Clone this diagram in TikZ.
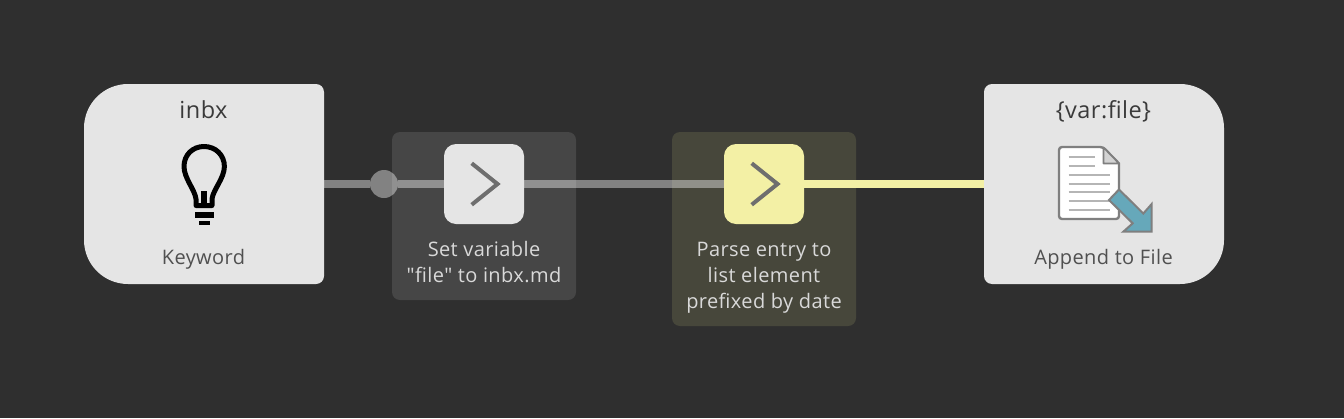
\documentclass[tikz,border=0pt]{standalone}
\usepackage{fontspec}
\newfontfamily\lblfont{Open Sans}[LetterSpace=2]
\newfontfamily\ttlfont{Open Sans}[LetterSpace=2]
\definecolor{bgc}{HTML}{2F2F2F}
\definecolor{cardc}{HTML}{E5E5E5}
\definecolor{panelA}{HTML}{464646}
\definecolor{panelB}{HTML}{47473B}
\definecolor{yel}{HTML}{F3F0A5}
\definecolor{chev}{HTML}{6E6E6E}
\definecolor{txtd}{HTML}{3A3A3A}
\definecolor{txtm}{HTML}{505050}
\definecolor{txtl}{HTML}{D9D9D9}
\definecolor{teal}{HTML}{66A8BA}
\definecolor{docl}{HTML}{B5B5B5}
\definecolor{docg}{HTML}{7F7F7F}
\tikzset{
  x=1pt,y=-1pt,
  anchorbox/.style={inner sep=0pt,outer sep=0pt,minimum width=#1,minimum height=80pt},
  stepsq/.style={rectangle,rounded corners=12pt,inner sep=0pt,outer sep=0pt,minimum size=80pt},
  panel/.style={rounded corners=8pt},
  wire/.style={line width=8pt,white,opacity=.4},
  titletxt/.style={anchor=base,inner sep=0pt,font=\ttlfont\fontsize{23.5}{28}\selectfont,text=txtd},
  subtxt/.style={anchor=base,inner sep=0pt,font=\lblfont\fontsize{20}{26}\selectfont,text=txtm},
  lbl/.style={anchor=base,inner sep=0pt,font=\lblfont\fontsize{20}{26}\selectfont,text=txtl},
  chevron/.style={chev,line width=4pt,miter limit=10},
}
\begin{document}
\begin{tikzpicture}
\useasboundingbox (0,0) rectangle (1344,418);
\fill[bgc] (0,0) rectangle (1344,418);
% panels
\fill[panelA,panel] (392,132) rectangle (576,300);
\fill[panelB,panel] (672,132) rectangle (856,326);
% cards
\fill[cardc] (84,128) .. controls (84,103.7) and (103.7,84) .. (128,84)
  -- (316,84) .. controls (320.4,84) and (324,87.6) .. (324,92)
  -- (324,276) .. controls (324,280.4) and (320.4,284) .. (316,284)
  -- (128,284) .. controls (103.7,284) and (84,264.3) .. (84,240) -- cycle;
\fill[cardc] (1224,128) .. controls (1224,103.7) and (1204.3,84) .. (1180,84)
  -- (992,84) .. controls (987.6,84) and (984,87.6) .. (984,92)
  -- (984,276) .. controls (984,280.4) and (987.6,284) .. (992,284)
  -- (1180,284) .. controls (1204.3,284) and (1224,264.3) .. (1224,240) -- cycle;
% named nodes
\node[anchorbox=240pt,minimum height=200pt] (kw) at (204,184) {};
\node[anchorbox=240pt,minimum height=200pt] (app) at (1104,184) {};
\node[stepsq,fill=cardc] (setv) at (484,184) {};
\node[stepsq,fill=yel] (parse) at (764,184) {};
\node[circle,fill=white,fill opacity=.4,inner sep=0pt,outer sep=0pt,minimum size=28pt] (dot) at (384,184) {};
% connectors
\draw[wire] (kw.east) -- (dot.west);
\draw[wire] (dot.east) -- (setv.west);
\draw[wire] (setv.east) -- (parse.west);
\draw[line width=8pt,yel] (parse.east) -- (app.west);
% chevrons
\draw[chevron] (471.7,163.3) -- (497.5,184) -- (471.7,204.7);
\draw[chevron] (751.7,163.3) -- (777.5,184) -- (751.7,204.7);
% bulb
\draw[black,line width=5pt,line join=round]
  (196,205.5) -- (196,199)
  .. controls (195,190) and (184,178) .. (184,166.5)
  .. controls (184,155) and (192.5,146.5) .. (204,146.5)
  .. controls (215.5,146.5) and (224.4,155) .. (224.4,166.5)
  .. controls (224.4,178) and (213,190) .. (212,199)
  -- (212,205.5) -- cycle;
\fill[black] (201,191) rectangle (207,206);
\fill[black] (194.5,212) rectangle (213.5,217.5);
\fill[black] (198.5,221) rectangle (209.5,224.5);
% document
\draw[docg,fill=white,line width=2.4pt,rounded corners=3pt]
  (1059,147) -- (1103,147) [sharp corners] -- (1119,163.5) -- (1119,216) [rounded corners=3pt] -- (1119,219) -- (1059,219) -- cycle;
\draw[docg,fill=docl!60,line width=1.6pt,line join=round] (1103.5,147.5) -- (1103.5,163.5) -- (1119,163.5) -- cycle;
\foreach \yy in {156.7,165.7}{\draw[docl,line width=2pt] (1068.5,\yy) -- (1095,\yy);}
\foreach \yy in {174.5,183.5,192.3,201,210}{\draw[docl,line width=2pt] (1068.5,\yy) -- (1110,\yy);}
\draw[docg,fill=teal,line width=2pt,miter limit=10]
  (1119,189.5) -- (1143.3,213.5) -- (1151.7,204) -- (1151.7,231.7) -- (1123.3,231.7) -- (1132.7,223.3) -- (1109,200) -- cycle;
% text
\node[titletxt] (t1) at (203.5,118) {inbx};
\node[subtxt] (t2) at (203.5,264) {Keyword};
\node[titletxt] (t3) at (1103.5,118) {\{var:file\}};
\node[subtxt] (t4) at (1103.5,264) {Append to File};
\node[lbl] (l1) at (484,256) {Set variable};
\node[lbl] (l2) at (484,282) {"file" to inbx.md};
\node[lbl] (l3) at (764,256) {Parse entry to};
\node[lbl] (l4) at (764,282) {list element};
\node[lbl] (l5) at (764,308) {prefixed by date};
\end{tikzpicture}
\end{document}
